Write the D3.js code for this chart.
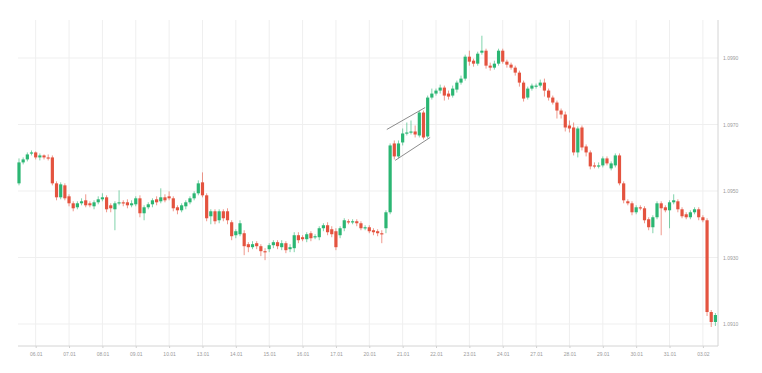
<!DOCTYPE html>
<html>
<head>
<meta charset="utf-8">
<script src="https://cdn.jsdelivr.net/npm/d3@7"></script>
<style>
  body { margin: 0; background: #fff; }
  svg { display: block; font-family: "Open Sans", Arial, sans-serif; }
</style>
</head>
<body>
<div id="chart"></div>
<script>
var svgWidth = 762;
var svgHeight = 373;

// price data, one entry per candle
var opens = [
  1.09523,1.09586,1.09595,1.09613,1.09616,1.09601,1.09607,1.09601,1.09601,1.09523,
  1.09481,1.09517,1.09484,1.09463,1.09451,1.09463,1.09472,1.09463,1.09454,1.09466,
  1.09475,1.09481,1.09457,1.09445,1.09463,1.09466,1.09466,1.09457,1.09460,1.09478,
  1.09433,1.09451,1.09460,1.09475,1.09469,1.09481,1.09484,1.09478,1.09451,1.09442,
  1.09454,1.09466,1.09478,1.09493,1.09526,1.09487,1.09424,1.09439,1.09412,1.09439,
  1.09439,1.09406,1.09367,1.09370,1.09373,1.09340,1.09331,1.09343,1.09334,1.09319,
  1.09325,1.09337,1.09346,1.09331,1.09343,1.09325,1.09328,1.09367,1.09361,1.09355,
  1.09373,1.09361,1.09361,1.09388,1.09397,1.09385,1.09379,1.09367,1.09388,1.09409,
  1.09406,1.09409,1.09403,1.09388,1.09391,1.09382,1.09379,1.09373,1.09388,1.09436,
  1.09643,1.09604,1.09646,1.09673,1.09676,1.09679,1.09667,1.09736,1.09664,1.09781,
  1.09793,1.09802,1.09811,1.09793,1.09787,1.09805,1.09826,1.09838,1.09904,1.09892,
  1.09883,1.09916,1.09922,1.09877,1.09871,1.09883,1.09922,1.09889,1.09880,1.09871,
  1.09856,1.09826,1.09781,1.09808,1.09814,1.09817,1.09826,1.09802,1.09781,1.09766,
  1.09742,1.09730,1.09697,1.09691,1.09616,1.09691,1.09634,1.09616,1.09577,1.09574,
  1.09577,1.09598,1.09568,1.09577,1.09607,1.09523,1.09469,1.09463,1.09436,1.09451,
  1.09448,1.09415,1.09391,1.09421,1.09463,1.09451,1.09442,1.09466,1.09469,1.09445,
  1.09430,1.09421,1.09436,1.09445,1.09421,1.09412,1.09136,1.09106
];
var closes = [
  1.09586,1.09595,1.09610,1.09616,1.09601,1.09607,1.09601,1.09598,1.09523,1.09481,
  1.09520,1.09478,1.09463,1.09448,1.09463,1.09469,1.09457,1.09457,1.09466,1.09475,
  1.09481,1.09445,1.09448,1.09463,1.09466,1.09463,1.09457,1.09463,1.09478,1.09433,
  1.09451,1.09460,1.09472,1.09466,1.09481,1.09472,1.09478,1.09448,1.09442,1.09457,
  1.09466,1.09478,1.09493,1.09523,1.09487,1.09418,1.09439,1.09409,1.09439,1.09418,
  1.09412,1.09364,1.09379,1.09403,1.09334,1.09331,1.09340,1.09334,1.09319,1.09316,
  1.09337,1.09346,1.09334,1.09343,1.09322,1.09331,1.09367,1.09352,1.09355,1.09370,
  1.09358,1.09364,1.09388,1.09397,1.09376,1.09370,1.09331,1.09388,1.09412,1.09406,
  1.09409,1.09403,1.09388,1.09391,1.09379,1.09376,1.09373,1.09370,1.09436,1.09637,
  1.09604,1.09643,1.09673,1.09676,1.09679,1.09670,1.09736,1.09661,1.09781,1.09793,
  1.09802,1.09811,1.09787,1.09784,1.09808,1.09826,1.09838,1.09904,1.09889,1.09883,
  1.09913,1.09922,1.09877,1.09871,1.09883,1.09922,1.09889,1.09880,1.09871,1.09856,
  1.09826,1.09778,1.09808,1.09817,1.09817,1.09826,1.09802,1.09781,1.09766,1.09742,
  1.09730,1.09691,1.09688,1.09616,1.09688,1.09631,1.09616,1.09574,1.09574,1.09577,
  1.09598,1.09583,1.09583,1.09607,1.09523,1.09472,1.09463,1.09436,1.09451,1.09448,
  1.09412,1.09391,1.09421,1.09463,1.09448,1.09442,1.09466,1.09472,1.09445,1.09424,
  1.09421,1.09436,1.09445,1.09421,1.09412,1.09136,1.09106,1.09127
];
var highs = [
  1.09598,1.09601,1.09616,1.09622,1.09619,1.09613,1.09610,1.09610,1.09607,1.09529,
  1.09526,1.09523,1.09490,1.09469,1.09469,1.09478,1.09490,1.09469,1.09472,1.09484,
  1.09493,1.09487,1.09463,1.09469,1.09502,1.09472,1.09475,1.09472,1.09484,1.09487,
  1.09457,1.09466,1.09478,1.09484,1.09508,1.09490,1.09499,1.09484,1.09457,1.09463,
  1.09472,1.09484,1.09499,1.09532,1.09556,1.09493,1.09445,1.09445,1.09445,1.09445,
  1.09448,1.09412,1.09385,1.09412,1.09382,1.09346,1.09349,1.09349,1.09340,1.09328,
  1.09343,1.09352,1.09352,1.09352,1.09349,1.09340,1.09376,1.09376,1.09367,1.09376,
  1.09379,1.09370,1.09394,1.09403,1.09406,1.09394,1.09388,1.09394,1.09418,1.09415,
  1.09415,1.09415,1.09409,1.09397,1.09397,1.09388,1.09385,1.09382,1.09442,1.09643,
  1.09652,1.09652,1.09688,1.09706,1.09712,1.09697,1.09742,1.09742,1.09787,1.09808,
  1.09808,1.09820,1.09817,1.09802,1.09817,1.09832,1.09847,1.09910,1.09922,1.09898,
  1.09919,1.09967,1.09928,1.09886,1.09892,1.09928,1.09928,1.09895,1.09886,1.09877,
  1.09862,1.09832,1.09814,1.09823,1.09823,1.09835,1.09838,1.09808,1.09787,1.09772,
  1.09748,1.09739,1.09712,1.09706,1.09694,1.09697,1.09640,1.09622,1.09586,1.09586,
  1.09604,1.09604,1.09589,1.09613,1.09613,1.09529,1.09475,1.09469,1.09457,1.09457,
  1.09454,1.09421,1.09427,1.09469,1.09469,1.09457,1.09472,1.09490,1.09475,1.09451,
  1.09436,1.09442,1.09451,1.09451,1.09427,1.09418,1.09142,1.09133
];
var lows = [
  1.09517,1.09580,1.09589,1.09607,1.09595,1.09592,1.09595,1.09592,1.09517,1.09472,
  1.09475,1.09472,1.09454,1.09439,1.09445,1.09457,1.09451,1.09451,1.09445,1.09460,
  1.09469,1.09436,1.09436,1.09382,1.09457,1.09454,1.09448,1.09451,1.09454,1.09421,
  1.09412,1.09445,1.09451,1.09457,1.09463,1.09466,1.09472,1.09439,1.09430,1.09436,
  1.09445,1.09460,1.09472,1.09487,1.09481,1.09409,1.09400,1.09400,1.09403,1.09409,
  1.09400,1.09352,1.09358,1.09364,1.09307,1.09316,1.09325,1.09325,1.09304,1.09292,
  1.09316,1.09328,1.09325,1.09322,1.09313,1.09316,1.09316,1.09343,1.09349,1.09346,
  1.09349,1.09355,1.09352,1.09379,1.09367,1.09361,1.09322,1.09358,1.09379,1.09400,
  1.09400,1.09394,1.09382,1.09382,1.09373,1.09367,1.09364,1.09343,1.09373,1.09430,
  1.09595,1.09598,1.09637,1.09667,1.09670,1.09661,1.09661,1.09655,1.09658,1.09775,
  1.09787,1.09793,1.09772,1.09775,1.09781,1.09796,1.09820,1.09832,1.09877,1.09874,
  1.09877,1.09910,1.09868,1.09862,1.09865,1.09877,1.09883,1.09871,1.09865,1.09847,
  1.09814,1.09769,1.09775,1.09802,1.09808,1.09811,1.09784,1.09772,1.09760,1.09718,
  1.09718,1.09679,1.09676,1.09607,1.09601,1.09622,1.09604,1.09565,1.09568,1.09568,
  1.09571,1.09577,1.09562,1.09571,1.09517,1.09463,1.09457,1.09427,1.09430,1.09442,
  1.09403,1.09382,1.09373,1.09415,1.09367,1.09436,1.09388,1.09460,1.09436,1.09418,
  1.09415,1.09415,1.09430,1.09412,1.09406,1.09124,1.09091,1.09094
];

var priceTicks = [1.0910, 1.0930, 1.0950, 1.0970, 1.0990];
var dateLabels = ["06.01","07.01","08.01","09.01","10.01","13.01","14.01","15.01","16.01","17.01",
  "20.01","21.01","22.01","23.01","24.01","27.01","28.01","29.01","30.01","31.01","03.02"];

// drawn channel: [candle index, price] for both rails
var channelTop = [[88.2, 1.09685], [97.4, 1.09751]];
var channelBottom = [[90.2, 1.09592], [98.6, 1.09661]];

var green = "#2bb673";
var red = "#e4533f";

var frame = { left: 18, right: 718, top: 20, bottom: 346 };

var data = opens.map(function(o, i) {
  return { i: i, open: o, close: closes[i], high: highs[i], low: lows[i] };
});

var svg = d3.select("#chart").append("svg")
  .attr("width", svgWidth)
  .attr("height", svgHeight);

var x = d3.scaleLinear()
  .domain([0, data.length - 1])
  .range([19, 715.4]);

var y = d3.scaleLinear()
  .domain([1.0910, 1.0990])
  .range([324, 58]);

var tickIdx = dateLabels.map(function(d, k) { return 4 + k * 8; });

// grid
svg.append("g").selectAll("line.v")
  .data(tickIdx)
  .enter().append("line")
  .attr("x1", d => x(d)).attr("x2", d => x(d))
  .attr("y1", frame.top).attr("y2", frame.bottom)
  .attr("stroke", "#efefef")
  .attr("stroke-width", 1);

svg.append("g").selectAll("line.h")
  .data(priceTicks)
  .enter().append("line")
  .attr("x1", frame.left).attr("x2", frame.right)
  .attr("y1", d => y(d)).attr("y2", d => y(d))
  .attr("stroke", "#efefef")
  .attr("stroke-width", 1);

// axes
var yAxis = d3.axisRight(y)
  .tickValues(priceTicks)
  .tickFormat(d3.format(".4f"))
  .tickSize(0)
  .tickPadding(5);

var yG = svg.append("g")
  .attr("transform", `translate(${frame.right}, 0)`)
  .call(yAxis);
yG.select(".domain").remove();
yG.selectAll("text").attr("fill", "#9a9a9a").style("font-size", "5px");

var xAxis = d3.axisBottom(x)
  .tickValues(tickIdx)
  .tickFormat(function(d, k) { return dateLabels[k]; })
  .tickSize(2)
  .tickPadding(4);

var xG = svg.append("g")
  .attr("transform", `translate(0, ${frame.bottom})`)
  .call(xAxis);
xG.select(".domain").remove();
xG.selectAll("line").attr("stroke", "#cfcfcf");
xG.selectAll("text").attr("fill", "#9a9a9a").style("font-size", "5px");

svg.append("line")
  .attr("x1", frame.left).attr("x2", frame.right)
  .attr("y1", frame.bottom).attr("y2", frame.bottom)
  .attr("stroke", "#d4d4d4");
svg.append("line")
  .attr("x1", frame.right).attr("x2", frame.right)
  .attr("y1", frame.top).attr("y2", frame.bottom)
  .attr("stroke", "#d4d4d4");

// candles
var candles = svg.append("g").selectAll("g")
  .data(data)
  .enter().append("g");

candles.append("line")
  .attr("x1", d => x(d.i)).attr("x2", d => x(d.i))
  .attr("y1", d => y(d.high)).attr("y2", d => y(d.low))
  .attr("stroke", d => d.close >= d.open ? green : red)
  .attr("stroke-opacity", 0.6)
  .attr("stroke-width", 1);

candles.append("rect")
  .attr("x", d => x(d.i) - 1.6)
  .attr("width", 3.2)
  .attr("y", d => y(Math.max(d.open, d.close)))
  .attr("height", d => Math.max(1.2, Math.abs(y(d.open) - y(d.close))))
  .attr("fill", d => d.close >= d.open ? green : red);

// channel lines
[channelTop, channelBottom].forEach(function(seg) {
  svg.append("line")
    .attr("x1", x(seg[0][0])).attr("y1", y(seg[0][1]))
    .attr("x2", x(seg[1][0])).attr("y2", y(seg[1][1]))
    .attr("stroke", "#8c8c8c")
    .attr("stroke-width", 1);
});
</script>
</body>
</html>
